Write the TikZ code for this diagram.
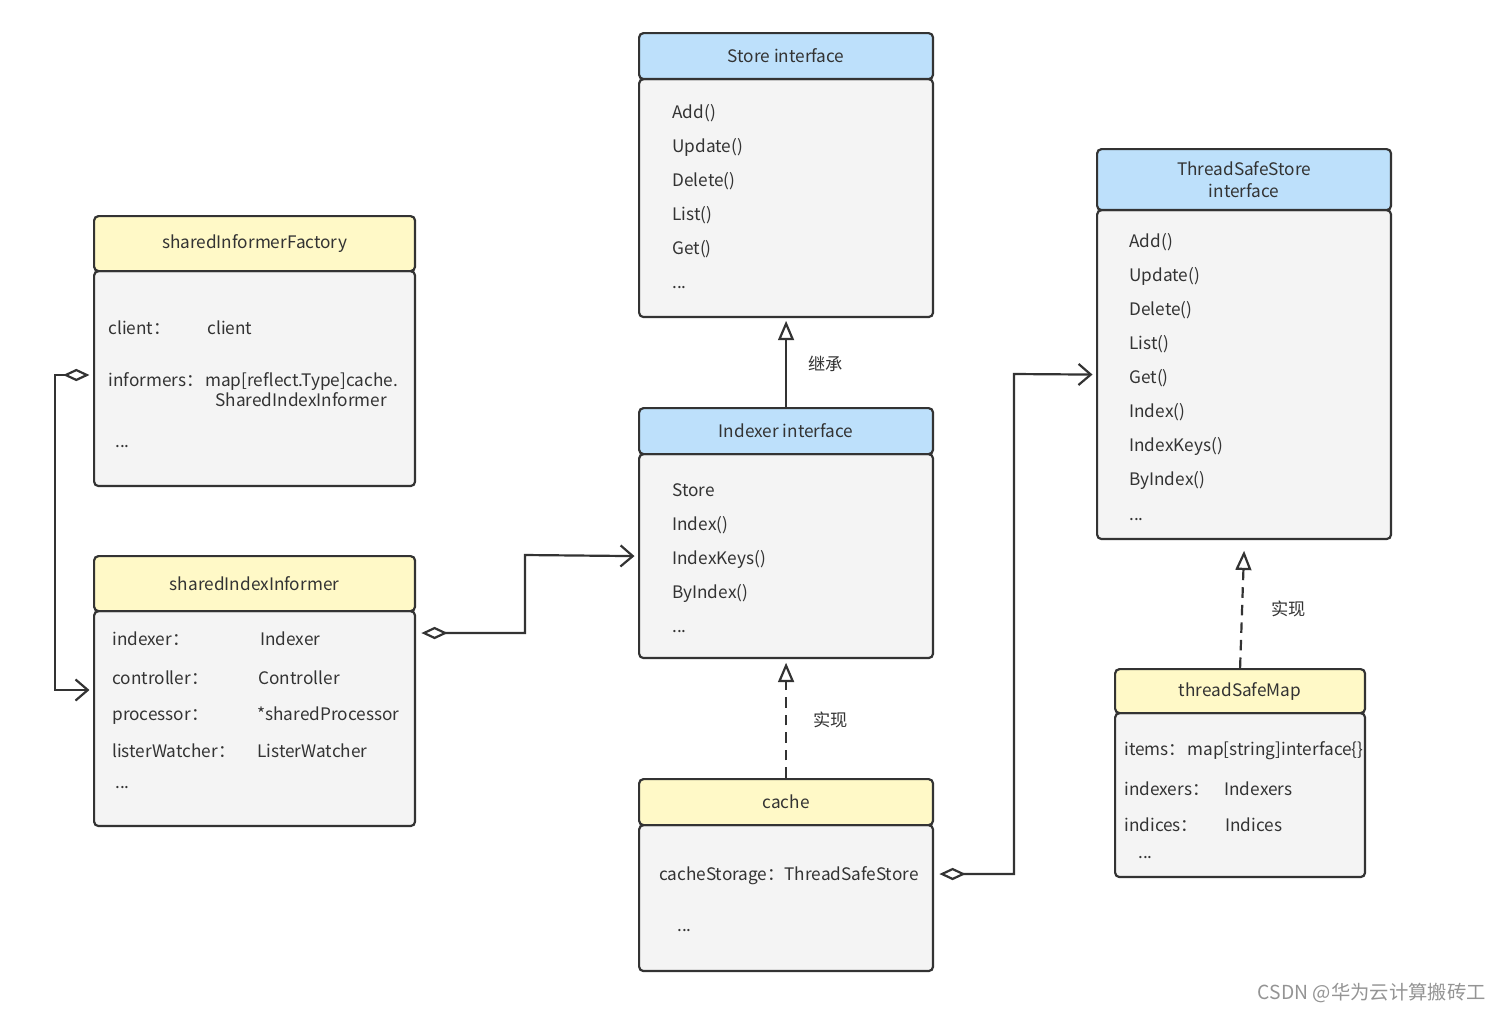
\documentclass[tikz,border=0pt]{standalone}
\usepackage{fontspec}
\setmainfont{Noto Sans CJK SC}
\usetikzlibrary{arrows.meta, positioning}

\definecolor{headblue}{RGB}{189,224,251}
\definecolor{headyellow}{RGB}{255,249,199}
\definecolor{bodygray}{RGB}{244,244,244}
\definecolor{ink}{RGB}{51,51,51}

\begin{document}
\begin{tikzpicture}[x=0.02cm, y=-0.02cm,
    every node/.style={font=\fontsize{9.8}{12.3}\selectfont, text=ink},
    box/.style 2 args={draw=ink, line width=1.25pt, rounded corners=2.5pt,
        anchor=north west, inner sep=0pt, minimum width=#1, minimum height=#2},
    headb/.style={fill=headblue},
    heady/.style={fill=headyellow},
    bodybox/.style={fill=bodygray},
    txt/.style={anchor=west, inner sep=0pt, text height=2ex, text depth=.4ex},
    link/.style={draw=ink, line width=1.25pt},
    inherit/.style={link, -{Triangle[open, length=11pt, width=9pt]}},
    realize/.style={inherit, dash pattern=on 6pt off 4pt},
    aggr/.style={link, {Diamond[open, length=15pt, width=7pt]}-{Straight Barb[length=7pt, width=12pt]}}
]
    \useasboundingbox (0,0) rectangle (1507,1012);

    % 左边两个 informer
    \node[box={6.42cm}{4.3cm}, bodybox]  (Factory body)  at (93,270)  {};
    \node[box={6.42cm}{1.1cm}, heady]    (Factory)       at (93,215)  {sharedInformerFactory};
    \node[box={6.42cm}{4.3cm}, bodybox]  (Informer body) at (93,610)  {};
    \node[box={6.42cm}{1.1cm}, heady]    (Informer)      at (93,555)  {sharedIndexInformer};

    \node[txt] (factory k1) at (108,327) {client：};
    \node[txt] (factory v1) at (207,327) {client};
    \node[txt] (factory k2) at (108,379) {informers：};
    \node[txt] (factory v2) at (205,379) {map[reflect.Type]cache.};
    \node[txt] (factory v3) at (215,399) {SharedIndexInformer};
    \node[txt] (factory more) at (115,440) {...};

    \node[txt] (informer k1) at (112,638) {indexer：};
    \node[txt] (informer v1) at (260,638) {Indexer};
    \node[txt] (informer k2) at (112,677) {controller：};
    \node[txt] (informer v2) at (258,677) {Controller};
    \node[txt] (informer k3) at (112,713) {processor：};
    \node[txt] (informer v3) at (257,713) {*sharedProcessor};
    \node[txt] (informer k4) at (112,750) {listerWatcher：};
    \node[txt] (informer v4) at (257,750) {ListerWatcher};
    \node[txt] (informer more) at (115,781) {...};

    % 中间 Store / Indexer / cache
    \node[box={5.88cm}{4.76cm}, bodybox] (Store body)   at (638,78)  {};
    \node[box={5.88cm}{0.92cm}, headb]   (Store)        at (638,32)  {Store interface};
    \node[box={5.88cm}{4.08cm}, bodybox] (Indexer body) at (638,453) {};
    \node[box={5.88cm}{0.92cm}, headb]   (Indexer)      at (638,407) {Indexer interface};
    \node[box={5.88cm}{2.92cm}, bodybox] (Cache body)   at (638,824) {};
    \node[box={5.88cm}{0.92cm}, heady]   (Cache)        at (638,778) {cache};

    \foreach \m [count=\i from 0] in {Add(),Update(),Delete(),List(),Get()}
        \node[txt] (store m\i) at (672,{111+34*\i}) {\m};
    \node[txt] (store more) at (672,281) {...};
    \foreach \m [count=\i from 0] in {Store,Index(),IndexKeys(),ByIndex()}
        \node[txt] (indexer m\i) at (672,{489+34*\i}) {\m};
    \node[txt] (indexer more) at (672,625) {...};

    \node[txt] (cache k1)   at (659,873) {cacheStorage：ThreadSafeStore};
    \node[txt] (cache more) at (677,924) {...};

    % 右边 ThreadSafeStore / threadSafeMap
    \node[box={5.88cm}{6.58cm}, bodybox] (TSS body) at (1096,209) {};
    \node[box={5.88cm}{1.22cm}, headb, align=center] (TSS) at (1096,148) {ThreadSafeStore\\interface};
    \node[box={5cm}{3.28cm}, bodybox]    (Map body) at (1114,712) {};
    \node[box={5cm}{0.88cm}, heady]      (Map)      at (1114,668) {threadSafeMap};

    \foreach \m [count=\i from 0] in {Add(),Update(),Delete(),List(),Get(),Index(),IndexKeys(),ByIndex()}
        \node[txt] (tss m\i) at (1129,{240+34*\i}) {\m};
    \node[txt] (tss more) at (1129,513) {...};

    \node[txt] (map k1) at (1124,748) {items：};
    \node[txt] (map v1) at (1187,748) {map[string]interface\{\}};
    \node[txt] (map k2) at (1124,788) {indexers：};
    \node[txt] (map v2) at (1224,788) {Indexers};
    \node[txt] (map k3) at (1124,824) {indices：};
    \node[txt] (map v3) at (1225,824) {Indices};
    \node[txt] (map more) at (1138,851) {...};

    % 继承 / 实现
    \draw[inherit] (Indexer.north) -- node[right=0.3cm] (lbl inherit) {继承} ([yshift=-1.5pt]Store body.south);
    \draw[realize] (Cache.north) -- node[right=0.4cm] (lbl realize) {实现} ([yshift=-2pt]Indexer body.south);
    \draw[realize] (Map.north) -- node[right=0.45cm] (lbl realize2) {实现} ([yshift=-6pt]TSS body.south);

    % 聚合
    \draw[aggr] ([xshift=3pt]Informer body.east |- 0,633) -| (525,555) -- ([xshift=-2pt]Indexer body.west);
    \draw[aggr] ([xshift=3pt]Cache body.east |- 0,874) -| (1014,374) -- ([xshift=-2pt]TSS body.west);
    \draw[aggr] ([xshift=-2pt]Factory body.west |- 0,375) -| (55,690) -- ([xshift=-2pt]Informer body.west |- 0,690);

    \node[anchor=east, text=black!42, font=\fontsize{11}{13}\selectfont] (mark) at (1492,993) {CSDN @华为云计算搬砖工};
\end{tikzpicture}
\end{document}
